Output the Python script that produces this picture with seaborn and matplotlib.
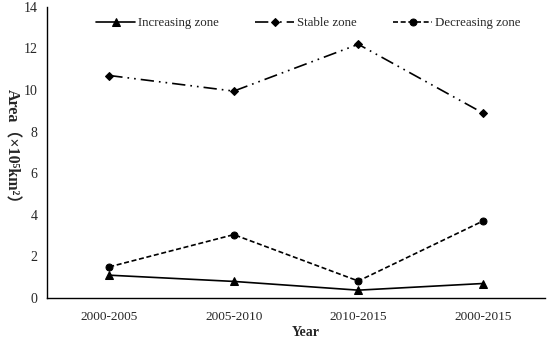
import matplotlib
matplotlib.use("Agg")
import matplotlib.pyplot as plt
import seaborn as sns
import numpy as np
import pandas as pd

categories = ["2000-2005", "2005-2010", "2010-2015", "2000-2015"]
increasing = [1.1, 0.8, 0.38, 0.7]
stable = [10.7, 9.95, 12.2, 8.9]
decreasing = [1.5, 3.05, 0.82, 3.7]

sns.set_style("white")
plt.rcParams['font.family'] = ['Liberation Serif', 'Noto Sans CJK SC']

fig = plt.figure(figsize=(5.5, 3.43), dpi=100)
ax = fig.add_axes([0.0855, 0.131, 0.9055, 0.849])

pos = np.arange(len(categories))
series = [
    ("Increasing zone", increasing, dict(marker="^", linestyle="-", markersize=6)),
    ("Stable zone", stable, dict(marker="D", markersize=4.5, dashes=(8, 3, 1, 3, 1, 3))),
    ("Decreasing zone", decreasing, dict(marker="o", markersize=5, dashes=(3, 1.6))),
]
for name, vals, kw in series:
    df = pd.DataFrame({"x": pos, "y": vals})
    sns.lineplot(data=df, x="x", y="y", ax=ax, color="black", linewidth=1.2,
                 markeredgecolor="black", markerfacecolor="black", label=name, **kw)

ax.set_xlim(-0.5, 3.5)
ax.set_ylim(0, 14)
ax.set_yticks(np.arange(0, 15, 2))
ax.set_xticks(np.arange(-0.5, 4, 1))
ax.set_xticklabels([])
ax.set_xticks(pos, minor=True)
ax.set_xticklabels(categories, minor=True)
ax.tick_params(axis="x", which="minor", length=0, pad=9, labelsize=9.5)
ax.tick_params(axis="x", which="major", length=4, width=0.9, direction="out", color="black")
ax.tick_params(axis="y", length=4, width=0.9, direction="out", color="black", labelsize=10, pad=3)

for s in ["top", "right"]:
    ax.spines[s].set_visible(False)
for s in ["left", "bottom"]:
    ax.spines[s].set_color("black")
    ax.spines[s].set_linewidth(1.0)

ax.set_xlabel("")
ax.set_ylabel("")
fig.text(306 / 550, 1 - 333 / 343, "Year", fontsize=10, fontweight="bold",
         ha="center", va="center")
fig.text(11 / 550, 1 - 150 / 343, "Area（×10⁵km²）", fontsize=11.5, fontweight="bold",
         ha="center", va="center", rotation=270)

ax.legend(loc="upper center", bbox_to_anchor=(0.525, 1.005), ncol=3, frameon=False,
          fontsize=9.3, handlelength=3.0, columnspacing=2.8, handletextpad=0.25)

fig.savefig("out.png", dpi=100)
